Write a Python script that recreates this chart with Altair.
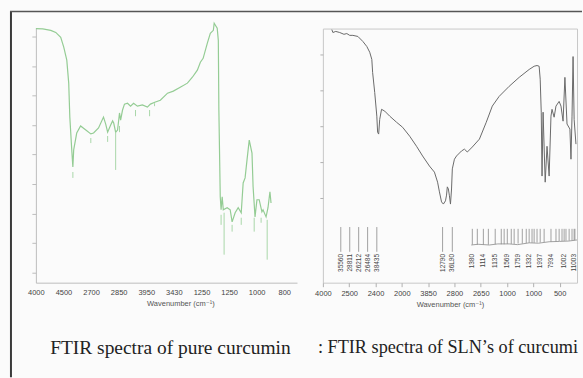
import altair as alt
import pandas as pd

# ---------------- Left panel: pure curcumin (green) ----------------
left_x = [0, 2.5, 5.4, 7.2, 9.0, 10.1, 11.2, 11.9, 12.3, 13.0, 13.4, 13.7, 14.8, 16.2, 18.1,
          19.9, 20.9, 22.7, 24.5, 25.3, 26.0, 27.1, 27.8, 28.2, 28.9, 29.6, 30.3, 30.7, 31.4,
          32.1, 33.2, 34.3, 35.4, 36.8, 38.6, 40.4, 41.5, 43.3, 45.1, 47.7, 49.8, 52.3, 54.9,
          56.7, 58.5, 59.6, 60.6, 62.1, 63.2, 64.3, 64.6, 65.7, 66.1, 66.3, 66.8, 67.1, 67.5,
          67.9, 69.3, 70.4, 71.1, 72.2, 73.3, 74.4, 75.1, 75.8, 76.5, 77.3, 78.3, 78.7, 79.4,
          80.1, 80.9, 81.9, 82.3, 83.4, 84.1, 84.8, 85.2]
left_y = [82.7, 82.6, 82.1, 81.4, 79.7, 76.4, 72.0, 64.2, 52.7, 41.6, 35.8, 41.6, 47.3, 49.7, 48.3,
          47.0, 47.3, 49.0, 52.7, 50.3, 47.6, 50.0, 51.4, 50.7, 47.6, 48.3, 54.1, 51.7, 55.1,
          57.1, 57.4, 56.4, 57.4, 56.4, 56.8, 56.1, 57.1, 57.8, 58.4, 60.8, 61.5, 62.8, 64.2,
          66.2, 68.6, 71.3, 72.6, 77.7, 81.1, 82.1, 84.5, 82.8, 78.7, 55.1, 25.7, 21.3, 25.7,
          21.3, 22.0, 21.3, 17.2, 20.3, 22.0, 20.3, 30.4, 32.1, 38.2, 44.9, 40.5, 29.1, 18.9,
          24.7, 24.7, 20.6, 21.3, 18.9, 22.0, 27.4, 23.6]

# peak markers under the green trace
left_mark_x = [13.4, 19.9, 26.0, 28.9, 30.3, 36.1, 41.2, 43.0, 67.1, 68.2, 71.1, 74.4, 79.1, 81.6, 83.8]
left_mark_top = [34.1, 45.6, 46.3, 47.6, 49.7, 55.1, 55.1, 57.4, 19.6, 20.3, 16.2, 18.6, 18.6, 18.6, 17.9]
left_mark_bottom = [32.1, 43.9, 44.3, 34.8, 47.6, 53.0, 53.0, 56.4, 16.2, 6.1, 13.9, 16.2, 13.9, 16.9, 4.4]

left_ticks = [0, 10, 20, 30, 40, 50, 60, 70, 80, 90]
left_tick_labels = ["4000", "4500", "2700", "2850", "3950", "3430", "1250", "1250", "1000", "800"]
left_caption = "FTIR spectra of pure curcumin"

# ---------------- Right panel: SLN's of curcumin (grey) ----------------
right_x = [3.4, 3.8, 4.9, 6.4, 8.0, 9.1, 10.2, 11.4, 13.3, 15.2, 16.7, 17.8, 18.6, 18.9, 19.7,
           20.5, 20.8, 21.2, 21.6, 22.3, 23.5, 25.4, 28.0, 30.3, 33.0, 35.6, 37.9, 40.5, 42.4,
           43.6, 44.3, 45.1, 45.8, 46.6, 47.0, 47.3, 47.7, 48.1, 48.5, 48.9, 49.2, 50.0, 50.8,
           52.7, 53.8, 54.9, 56.8, 59.5, 62.1, 64.4, 67.0, 70.8, 74.6, 78.4, 80.3, 81.4, 82.2,
           82.6, 83.0, 83.3, 83.7, 84.5, 85.2, 86.0, 86.7, 87.1, 87.9, 88.6, 89.8, 90.5, 91.3,
           92.0, 92.8, 93.9, 94.3, 94.7, 95.1, 95.5, 96.2]
right_y = [66.9, 66.1, 66.4, 66.1, 65.6, 65.8, 65.3, 65.3, 65.0, 63.6, 62.2, 60.6, 58.6, 55.0, 49.4,
           42.8, 38.3, 37.8, 41.9, 44.7, 44.2, 42.8, 41.1, 39.7, 37.2, 34.4, 31.7, 28.9, 27.2,
           24.4, 21.7, 18.9, 18.3, 19.2, 20.8, 23.1, 22.5, 20.6, 18.3, 22.5, 28.1, 30.8, 31.7,
           33.1, 33.6, 32.8, 34.2, 36.4, 41.1, 45.6, 48.3, 51.1, 53.6, 55.8, 56.7, 56.9, 56.7,
           53.1, 43.9, 26.1, 43.9, 24.4, 34.4, 26.1, 42.8, 44.7, 42.5, 45.6, 46.9, 45.6, 41.4,
           53.6, 40.6, 39.2, 30.8, 42.8, 59.4, 41.9, 35.0]

peak_labels = ["35560", "28811", "26212", "26484", "38435", "12790", "36L90",
               "1380", "1114", "1135", "1569", "1759", "1332", "1937", "7934", "1002", "11003"]
peak_x = [6.8, 10.2, 13.6, 17.0, 20.5, 45.5, 49.2,
          56.8, 61.0, 65.5, 70.1, 74.2, 78.4, 82.6, 86.7, 91.7, 95.5]
peak_top = [11.9, 11.9, 11.9, 11.9, 11.9, 11.9, 11.9,
            11.4, 11.4, 11.4, 11.4, 11.4, 11.4, 11.4, 11.4, 11.4, 11.4]
peak_bottom = [5.0, 5.0, 5.0, 5.0, 5.0, 5.0, 5.0,
               7.0, 7.0, 7.1, 7.2, 7.3, 7.5, 7.6, 7.8, 8.0, 8.2]
label_y = [4.4] * 17

stick_x = [58.7, 62.9, 67.8, 68.9, 71.6, 72.7, 75.8, 77.3, 79.5, 80.3, 81.4, 84.1,
           88.6, 89.8, 90.9, 92.4, 93.6, 94.7, 95.8]
stick_top = [11.4] * 19
stick_bottom = [7.0, 7.0, 7.1, 7.1, 7.2, 7.2, 7.3, 7.4, 7.5, 7.5, 7.6, 7.7,
                7.9, 8.0, 8.0, 8.1, 8.1, 8.2, 8.3]

base_x = [56.4, 59.0, 63.3, 66.5, 70.8, 74.0, 78.4, 82.0, 86.0, 90.0, 93.5, 96.6]
base_y = [6.9, 7.1, 6.9, 7.2, 7.2, 7.0, 7.5, 7.4, 7.8, 7.9, 8.0, 8.3]

right_ticks = [0, 10, 20, 30, 40, 50, 60, 70, 80, 90]
right_tick_labels = ["4000", "2500", "2400", "2000", "3850", "2800", "2650", "1000", "1000", "500"]
right_caption = ": FTIR spectra of SLN\u2019s of curcumin"

# ---------------- Styling ----------------
SANS = "Liberation Sans, DejaVu Sans, sans-serif"
SERIF = "Liberation Serif, DejaVu Serif, serif"
GREEN = "#94cc94"
GREEN_LIGHT = "#a9d7a9"
AXIS_TITLE = "Wavenumber (cm\u207b\u00b9)"


def label_expr(labels):
    arr = ",".join("'" + s + "'" for s in labels)
    return "[" + arr + "][round(datum.value / 10)]"


left_x_axis = alt.Axis(values=left_ticks, labelExpr=label_expr(left_tick_labels), title=AXIS_TITLE,
                       tickSize=0, labelPadding=6, labelFlush=False, labelFont=SANS, labelFontSize=7.5,
                       labelColor="#444", titleFont=SANS, titleFontSize=7.5, titleFontWeight="normal",
                       titleColor="#555", titlePadding=3, titleX=145, domainColor="#bdbdbd", grid=False)
left_y_axis = alt.Axis(values=[0, 10, 20, 30, 40, 50, 60, 70, 80], labels=False, title=None,
                       tickSize=4, tickColor="#bdbdbd", domainColor="#bdbdbd", grid=False)
lx_scale = alt.Scale(domain=[0, 94.6], nice=False, zero=False)
ly_scale = alt.Scale(domain=[-3.4, 82.7], nice=False, zero=False)


def lx(field):
    return alt.X(field, type="quantitative", scale=lx_scale, axis=left_x_axis)


def ly(field):
    return alt.Y(field, type="quantitative", scale=ly_scale, axis=left_y_axis)


left_df = pd.DataFrame({"x": left_x, "y": left_y})
left_marks_df = pd.DataFrame({"x": left_mark_x, "y": left_mark_top, "y2": left_mark_bottom})
one = alt.Data(values=[{}])

left_curve = alt.Chart(left_df).mark_line(color=GREEN, strokeWidth=1.2).encode(
    x=lx("x"), y=ly("y"), order="x:Q")
left_markers = alt.Chart(left_marks_df).mark_rule(color=GREEN_LIGHT, strokeWidth=1).encode(
    x=lx("x"), y=ly("y"), y2="y2:Q")
frame_left = alt.Chart(one).mark_rule(color="#3a3a3a", strokeWidth=2).encode(
    x=alt.value(-25), y=alt.value(-17), y2=alt.value(350))
frame_top = alt.Chart(one).mark_rule(color="#555555", strokeWidth=1.5).encode(
    x=alt.value(-26), x2=alt.value(548), y=alt.value(-17))
left_cap = alt.Chart(one).mark_text(text=left_caption, font=SERIF, fontSize=19.5, color="#222",
                                    align="center", baseline="middle").encode(
    x=alt.value(135), y=alt.value(321))

left = alt.layer(left_curve, left_markers, frame_left, frame_top, left_cap).properties(
    width=262, height=255)

right_x_axis = alt.Axis(values=right_ticks, labelExpr=label_expr(right_tick_labels), title=AXIS_TITLE,
                        tickSize=4, tickColor="#b0b0b0", labelPadding=3, labelFlush=False, labelFont=SANS,
                        labelFontSize=7.5, labelColor="#444", titleFont=SANS, titleFontSize=7.5,
                        titleFontWeight="normal", titleColor="#555", titlePadding=3,
                        domain=False, grid=False)
right_y_axis = alt.Axis(values=[20, 30, 40, 50, 60], labels=False, title=None, tickSize=3,
                        tickColor="#b0b0b0", domain=False, grid=False)
rx_scale = alt.Scale(domain=[0, 96.6], nice=False, zero=False)
ry_scale = alt.Scale(domain=[-3.6, 67.2], nice=False, zero=False)


def rx(field):
    return alt.X(field, type="quantitative", scale=rx_scale, axis=right_x_axis)


def ry(field):
    return alt.Y(field, type="quantitative", scale=ry_scale, axis=right_y_axis)


right_df = pd.DataFrame({"x": right_x, "y": right_y})
peaks_df = pd.DataFrame({"x": peak_x, "y": peak_top, "y2": peak_bottom, "ly": label_y, "label": peak_labels})
sticks_df = pd.DataFrame({"x": stick_x, "y": stick_top, "y2": stick_bottom})
base_df = pd.DataFrame({"x": base_x, "y": base_y})

right_curve = alt.Chart(right_df).mark_line(color="#6a6a6a", strokeWidth=1).encode(
    x=rx("x"), y=ry("y"), order="x:Q")
peak_rules = alt.Chart(peaks_df).mark_rule(color="#8a8a8a", strokeWidth=0.8).encode(
    x=rx("x"), y=ry("y"), y2="y2:Q")
stick_rules = alt.Chart(sticks_df).mark_rule(color="#8a8a8a", strokeWidth=0.8).encode(
    x=rx("x"), y=ry("y"), y2="y2:Q")
base_line = alt.Chart(base_df).mark_line(color="#8a8a8a", strokeWidth=0.8).encode(
    x=rx("x"), y=ry("y"), order="x:Q")
peak_text = alt.Chart(peaks_df).mark_text(angle=270, align="right", baseline="middle", font=SANS,
                                          fontSize=6.5, color="#444").encode(
    x=rx("x"), y=ry("ly"), text="label:N")
right_cap = alt.Chart(one).mark_text(text=right_caption, font=SERIF, fontSize=18.3, color="#222",
                                     align="left", baseline="middle", limit=265,
                                     ellipsis="\u200b").encode(
    x=alt.value(-5), y=alt.value(321))

right = alt.layer(right_curve, base_line, peak_rules, stick_rules, peak_text, right_cap).properties(
    width=255, height=255,
    view=alt.ViewBackground(stroke="#c8c8c8", strokeWidth=1))

chart = alt.hconcat(left, right, spacing=26, bounds="flush").properties(
    padding={"left": 9, "top": 10, "right": 0, "bottom": 0},
    background="#fbfbfb",
).configure_view(stroke=None)

chart.save("out.html", embed_options={"renderer": "svg", "actions": False})
